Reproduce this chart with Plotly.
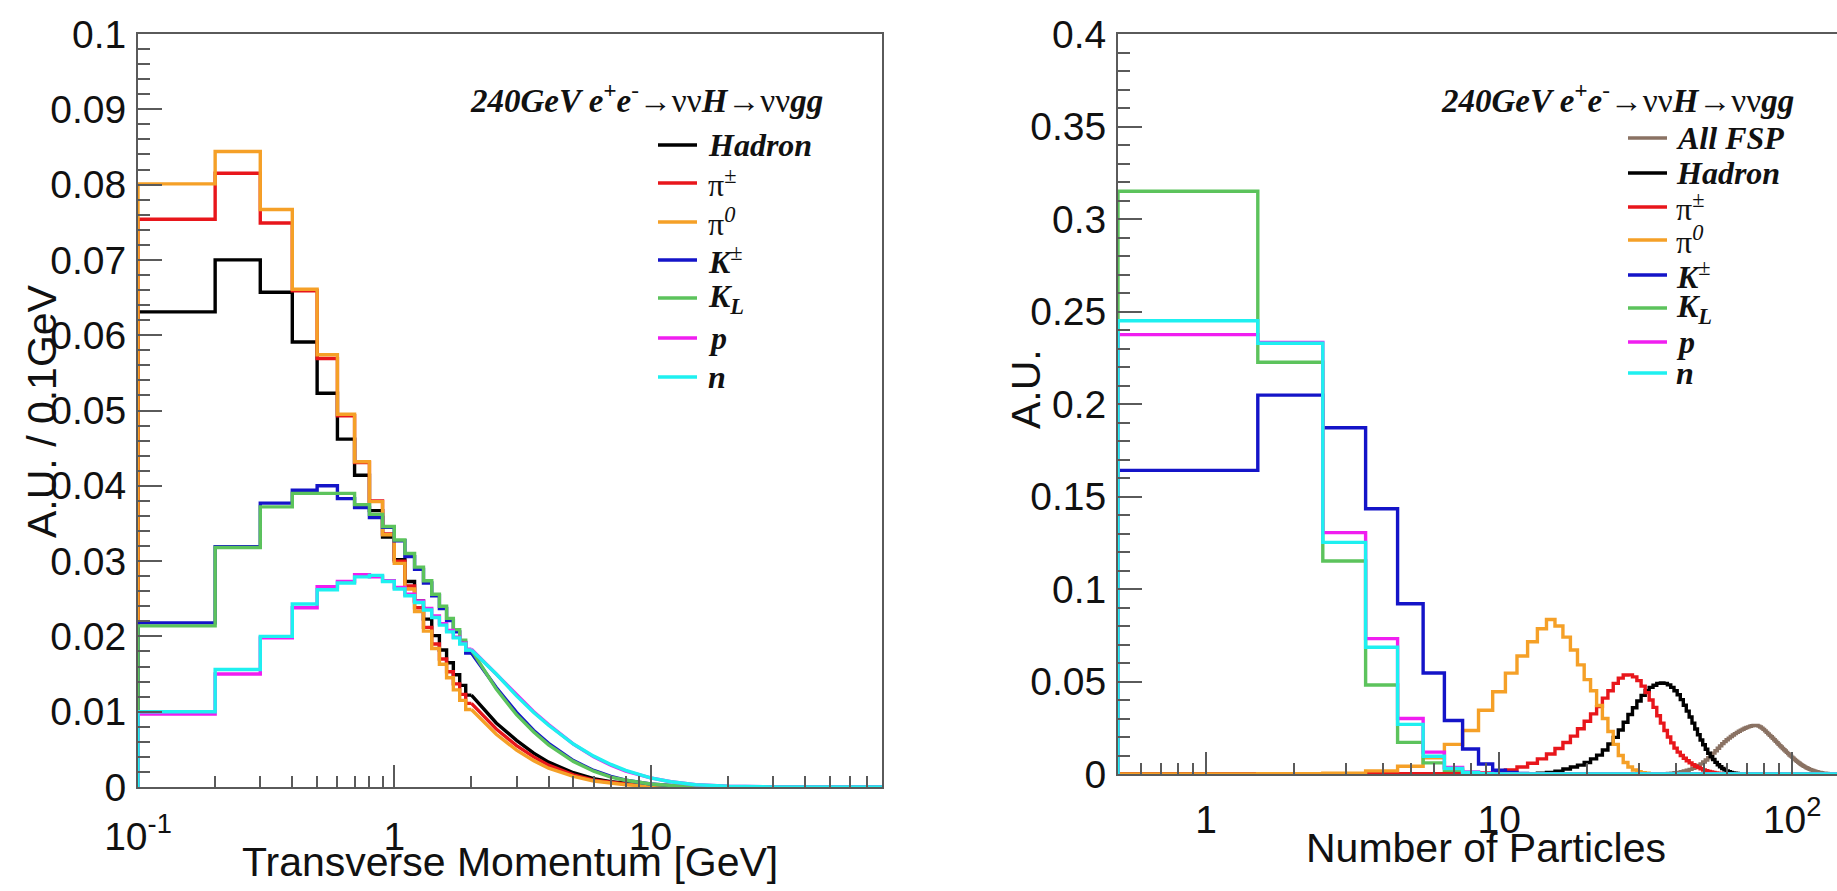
import plotly.graph_objects as go
import numpy as np

W, H = 1837, 891

# ---------------- Left panel: transverse momentum (0.1 GeV bins) ----------------
pt_edges = [round(0.1 * i, 1) for i in range(1, 21)]  # 0.1 .. 2.0
pt_hadron = [0.0631, 0.0700, 0.0657, 0.0591, 0.0523, 0.0462, 0.0414, 0.0367, 0.0332, 0.0302,
             0.0273, 0.0247, 0.0223, 0.0201, 0.0182, 0.0165, 0.0149, 0.0135, 0.0122]
pt_pipm = [0.0754, 0.0815, 0.0749, 0.0659, 0.0569, 0.0493, 0.0431, 0.0380, 0.0336, 0.0300,
           0.0267, 0.0238, 0.0212, 0.0190, 0.0170, 0.0153, 0.0137, 0.0123, 0.0111]
pt_pi0 = [0.0801, 0.0844, 0.0767, 0.0661, 0.0574, 0.0495, 0.0432, 0.0379, 0.0335, 0.0297,
          0.0263, 0.0233, 0.0207, 0.0184, 0.0163, 0.0145, 0.0129, 0.0115, 0.0103]
pt_kpm = [0.0218, 0.0319, 0.0377, 0.0394, 0.0400, 0.0383, 0.0371, 0.0358, 0.0345, 0.0327,
          0.0306, 0.0289, 0.0271, 0.0254, 0.0237, 0.0221, 0.0206, 0.0192, 0.0178]
pt_kl = [0.0214, 0.0318, 0.0372, 0.0390, 0.0390, 0.0390, 0.0375, 0.0362, 0.0346, 0.0328,
         0.0310, 0.0292, 0.0274, 0.0256, 0.0240, 0.0224, 0.0209, 0.0195, 0.0182]
pt_p = [0.0097, 0.0150, 0.0198, 0.0238, 0.0266, 0.0273, 0.0282, 0.0279, 0.0274, 0.0265,
        0.0256, 0.0247, 0.0237, 0.0227, 0.0217, 0.0208, 0.0199, 0.0191, 0.0183]
pt_n = [0.0100, 0.0156, 0.0200, 0.0243, 0.0262, 0.0271, 0.0279, 0.0281, 0.0273, 0.0263,
        0.0254, 0.0245, 0.0235, 0.0225, 0.0215, 0.0206, 0.0198, 0.0190, 0.0182]

# tail of the spectra (bins too narrow to resolve): values at these pT
pt_tail_x = [2.0, 2.5, 3, 3.5, 4, 5, 6, 7, 8, 10, 12, 15, 20, 30, 80]
tail_hadron = [0.0122, 0.0085, 0.0062, 0.0045, 0.0033, 0.0019, 0.0011, 0.0007, 0.0005, 0.0002, 0.0001, 0.00004, 0.00001, 0, 0]
tail_pipm = [0.0111, 0.0077, 0.0055, 0.0040, 0.0029, 0.0016, 0.0009, 0.0006, 0.0004, 0.00015, 0.00007, 0.00003, 0, 0, 0]
tail_pi0 = [0.0103, 0.0070, 0.0049, 0.0035, 0.0025, 0.0014, 0.0008, 0.0005, 0.0003, 0.0001, 0.00005, 0.00002, 0, 0, 0]
tail_kpm = [0.0178, 0.0132, 0.0099, 0.0075, 0.0058, 0.0035, 0.0022, 0.0014, 0.0009, 0.0004, 0.0002, 0.0001, 0.00003, 0, 0]
tail_kl = [0.0182, 0.0130, 0.0096, 0.0073, 0.0056, 0.0034, 0.0021, 0.0013, 0.0009, 0.0004, 0.0002, 0.0001, 0.00003, 0, 0]
tail_p = [0.0183, 0.0150, 0.0122, 0.0100, 0.0083, 0.0057, 0.0040, 0.0029, 0.0021, 0.0012, 0.0007, 0.0003, 0.0001, 0.00002, 0]
tail_n = [0.0182, 0.0150, 0.0121, 0.0099, 0.0082, 0.0057, 0.0041, 0.0030, 0.0022, 0.0012, 0.0007, 0.0003, 0.0001, 0.00002, 0]

# ---------------- Right panel: multiplicity (integer bins) ----------------
n_max = 150
fsp_start = 38
mult_fsp = [0.0003, 0.0005, 0.0007, 0.0009, 0.0012, 0.0016, 0.0020, 0.0025, 0.0031, 0.0038,
            0.0046, 0.0055, 0.0065, 0.0076, 0.0088, 0.0100, 0.0113, 0.0126, 0.0139, 0.0152,
            0.0164, 0.0175, 0.0185, 0.0194, 0.0203, 0.0211, 0.0218, 0.0225, 0.0231, 0.0237,
            0.0242, 0.0247, 0.0251, 0.0255, 0.0258, 0.0261, 0.0263, 0.0263, 0.0262, 0.0259,
            0.0254, 0.0248, 0.0241, 0.0233, 0.0225, 0.0217, 0.0209, 0.0201, 0.0193, 0.0185,
            0.0177, 0.0169, 0.0161, 0.0153, 0.0146, 0.0138, 0.0131, 0.0124, 0.0117, 0.0110,
            0.0103, 0.0097, 0.0091, 0.0085, 0.0079, 0.0073, 0.0068, 0.0063, 0.0058, 0.0053,
            0.0049, 0.0045, 0.0041, 0.0037, 0.0034, 0.0031, 0.0028, 0.0025, 0.0023, 0.0021,
            0.0019, 0.0017, 0.0015, 0.0013, 0.0012, 0.0010, 0.0009, 0.0008, 0.0007, 0.0006,
            0.0005, 0.0004, 0.0004, 0.0003, 0.0003, 0.0002, 0.0002, 0.0002, 0.0001, 0.0001,
            0.0001, 0.0001]
hadron_start = 12
mult_hadron = [0.0001, 0.0002, 0.0004, 0.0008, 0.0015, 0.0027, 0.0038, 0.0048, 0.0062, 0.0082,
               0.0102, 0.0130, 0.0162, 0.0198, 0.0238, 0.0280, 0.0322, 0.0358, 0.0395, 0.0425,
               0.0450, 0.0468, 0.0480, 0.0490, 0.0492, 0.0490, 0.0482, 0.0468, 0.0450, 0.0428,
               0.0402, 0.0372, 0.0340, 0.0308, 0.0275, 0.0243, 0.0212, 0.0184, 0.0158, 0.0134,
               0.0112, 0.0094, 0.0078, 0.0063, 0.0050, 0.0039, 0.0030, 0.0023, 0.0017, 0.0012,
               0.0008, 0.0006, 0.0004, 0.0003, 0.0002, 0.0001, 0.0001]
pipm_start = 4
mult_pipm = [0.0001, 0.0001, 0.0002, 0.0002, 0.0003, 0.0006, 0.0012, 0.0022, 0.0038, 0.0058,
             0.0082, 0.0108, 0.0138, 0.0170, 0.0205, 0.0245, 0.0285, 0.0325, 0.0365, 0.0410,
             0.0450, 0.0490, 0.0518, 0.0535, 0.0536, 0.0525, 0.0505, 0.0475, 0.0440, 0.0400,
             0.0360, 0.0315, 0.0275, 0.0235, 0.0200, 0.0168, 0.0140, 0.0118, 0.0100, 0.0085,
             0.0072, 0.0060, 0.0050, 0.0042, 0.0035, 0.0028, 0.0022, 0.0018, 0.0014, 0.0011,
             0.0008, 0.0006, 0.0004, 0.0003, 0.0002, 0.0001, 0.0001]
pi0_start = 2
mult_pi0 = [0.0001, 0.0004, 0.0017, 0.0042, 0.0088, 0.0160, 0.0235, 0.0345, 0.0445, 0.0545,
            0.0638, 0.0715, 0.0785, 0.0835, 0.0800, 0.0740, 0.0670, 0.0590, 0.0510, 0.0450,
            0.0370, 0.0300, 0.0230, 0.0160, 0.0100, 0.0062, 0.0038, 0.0022, 0.0013, 0.0007,
            0.0004, 0.0002, 0.0001]
kpm_start = 1
mult_kpm = [0.1641, 0.2048, 0.1872, 0.1434, 0.0920, 0.0546, 0.0289, 0.0135, 0.0054, 0.0020,
            0.0008, 0.0003, 0.0001]
kl_start = 1
mult_kl = [0.3150, 0.2226, 0.1151, 0.0481, 0.0171, 0.0060, 0.0020, 0.0006, 0.0002]
p_start = 1
mult_p = [0.2375, 0.2333, 0.1305, 0.0732, 0.0300, 0.0118, 0.0036, 0.0011, 0.0003]
n_start = 1
mult_n = [0.2450, 0.2328, 0.1252, 0.0685, 0.0268, 0.0096, 0.0030, 0.0009, 0.0002]

# ---------------- styling ----------------
C_FSP = "#8a7263"
C_HAD = "#000000"
C_PIPM = "#e8161b"
C_PI0 = "#f5a027"
C_KPM = "#1414c8"
C_KL = "#5cc35c"
C_P = "#f01ef0"
C_N = "#1ef0f0"
LW = 3.4
AXC = "#5a5a5a"
SANS = "Liberation Sans, Arial, sans-serif"
SERIF = "Liberation Serif, Times New Roman, serif"

L_LEFT, L_RIGHT, L_TOP, L_BOT = 138, 882, 34, 787
R_LEFT, R_RIGHT, R_TOP, R_BOT = 1118, W, 34, 774


def px(x):
    return x / W


def py(y):
    return 1 - y / H


fig = go.Figure()

left_series = [
    (C_HAD, pt_hadron, tail_hadron),
    (C_PIPM, pt_pipm, tail_pipm),
    (C_PI0, pt_pi0, tail_pi0),
    (C_KPM, pt_kpm, tail_kpm),
    (C_KL, pt_kl, tail_kl),
    (C_P, pt_p, tail_p),
    (C_N, pt_n, tail_n),
]
for col, vals, tail in left_series:
    xs = [pt_edges[0]] + pt_edges
    ys = [0] + vals + [vals[-1]]
    fig.add_trace(go.Scatter(x=xs, y=ys, mode="lines", line=dict(color=col, width=LW, shape="hv"),
                             xaxis="x", yaxis="y", showlegend=False, hoverinfo="skip"))
    fig.add_trace(go.Scatter(x=pt_tail_x, y=tail, mode="lines", line=dict(color=col, width=LW),
                             xaxis="x", yaxis="y", showlegend=False, hoverinfo="skip"))

right_series = [
    (C_FSP, fsp_start, mult_fsp),
    (C_HAD, hadron_start, mult_hadron),
    (C_PIPM, pipm_start, mult_pipm),
    (C_PI0, pi0_start, mult_pi0),
    (C_KPM, kpm_start, mult_kpm),
    (C_KL, kl_start, mult_kl),
    (C_P, p_start, mult_p),
    (C_N, n_start, mult_n),
]
n_vals = list(range(1, n_max + 1))
for col, start, vals in right_series:
    full = [0.0] * n_max
    for i, v in enumerate(vals):
        full[start - 1 + i] = v
    xs = [0.5] + [n - 0.5 for n in n_vals] + [n_max + 0.5]
    ys = [0] + full + [full[-1]]
    fig.add_trace(go.Scatter(x=xs, y=ys, mode="lines", line=dict(color=col, width=LW, shape="hv"),
                             xaxis="x2", yaxis="y2", showlegend=False, hoverinfo="skip"))

tickfont = dict(family=SANS, size=39, color="#111111")

left_minor = [v * m for v in (0.1, 1, 10) for m in range(2, 10) if v * m <= 80]
right_minor = [0.6, 0.7, 0.8, 0.9] + [v * m for v in (1, 10, 100) for m in range(2, 10) if v * m <= 141]

fig.update_layout(
    width=W, height=H, margin=dict(l=0, r=0, t=0, b=0),
    paper_bgcolor="white", plot_bgcolor="white", template="none",
    xaxis=dict(type="log", domain=[px(L_LEFT), px(L_RIGHT)], range=[-1, np.log10(80)],
               anchor="y", showgrid=False, zeroline=False, showline=True, linecolor=AXC, linewidth=2,
               mirror=True, ticks="inside", ticklen=22, tickwidth=1.5, tickcolor=AXC,
               tickvals=[0.1, 1, 10], ticktext=["10<sup>-1</sup>", "1", "10"], tickfont=tickfont,
               ticklabelstandoff=14, automargin=False,
               minor=dict(tickvals=left_minor, ticks="inside", ticklen=11, tickwidth=1.5, tickcolor=AXC, showgrid=False)),
    yaxis=dict(domain=[py(L_BOT), py(L_TOP)], range=[0, 0.1], anchor="x",
               showgrid=False, zeroline=False, showline=True, linecolor=AXC, linewidth=2,
               mirror=True, ticks="inside", ticklen=24, tickwidth=1.5, tickcolor=AXC,
               tickvals=[round(0.01 * i, 2) for i in range(0, 11)],
               ticktext=["0", "0.01", "0.02", "0.03", "0.04", "0.05", "0.06", "0.07", "0.08", "0.09", "0.1"],
               tickfont=tickfont, ticklabelstandoff=2, automargin=False,
               minor=dict(dtick=0.002, ticks="inside", ticklen=12, tickwidth=1.5, tickcolor=AXC, showgrid=False)),
    xaxis2=dict(type="log", domain=[px(R_LEFT), px(R_RIGHT)],
                range=[np.log10(0.5), np.log10(0.5) + (R_RIGHT - R_LEFT) / 293.0],
                anchor="y2", showgrid=False, zeroline=False, showline=True, linecolor=AXC, linewidth=2,
                mirror=True, ticks="inside", ticklen=22, tickwidth=1.5, tickcolor=AXC,
                tickvals=[1, 10, 100], ticktext=["1", "10", "10<sup>2</sup>"], tickfont=tickfont,
                ticklabelstandoff=10, automargin=False,
                minor=dict(tickvals=right_minor, ticks="inside", ticklen=11, tickwidth=1.5, tickcolor=AXC, showgrid=False)),
    yaxis2=dict(domain=[py(R_BOT), py(R_TOP)], range=[0, 0.4], anchor="x2",
                showgrid=False, zeroline=False, showline=True, linecolor=AXC, linewidth=2,
                mirror=False, ticks="inside", ticklen=24, tickwidth=1.5, tickcolor=AXC,
                tickvals=[round(0.05 * i, 2) for i in range(0, 9)],
                ticktext=["0", "0.05", "0.1", "0.15", "0.2", "0.25", "0.3", "0.35", "0.4"],
                tickfont=tickfont, ticklabelstandoff=2, automargin=False,
                minor=dict(dtick=0.01, ticks="inside", ticklen=12, tickwidth=1.5, tickcolor=AXC, showgrid=False)),
)

ann = []
shapes = []
titlefont = dict(family=SANS, size=41, color="#111111")
ann.append(dict(text="Transverse Momentum [GeV]", x=px(510), y=py(862), xref="paper", yref="paper",
                showarrow=False, xanchor="center", yanchor="middle", font=titlefont))
ann.append(dict(text="Number of Particles", x=px(1486), y=py(848), xref="paper", yref="paper",
                showarrow=False, xanchor="center", yanchor="middle", font=titlefont))
ann.append(dict(text="A.U. / 0.1GeV", x=px(42), y=py(411), xref="paper", yref="paper", textangle=-90,
                showarrow=False, xanchor="center", yanchor="middle", font=titlefont))
ann.append(dict(text="A.U.", x=px(1026), y=py(389), xref="paper", yref="paper", textangle=-90,
                showarrow=False, xanchor="center", yanchor="middle", font=titlefont))

proc = ("<b><i>240GeV e</i></b><sup><b><i>+</i></b></sup><b><i>e</i></b><sup>-</sup>"
        "→νν<b><i>H</i></b>→νν<b><i>gg</i></b>")
procfont = dict(family=SERIF, size=33, color="#111111")
ann.append(dict(text=proc, x=px(646), y=py(98), xref="paper", yref="paper", showarrow=False,
                xanchor="center", yanchor="middle", font=procfont))
ann.append(dict(text=proc, x=px(1617), y=py(98), xref="paper", yref="paper", showarrow=False,
                xanchor="center", yanchor="middle", font=procfont))

lab = {
    "fsp": "<b><i>All FSP</i></b>",
    "had": "<b><i>Hadron</i></b>",
    "pipm": "π<sup>±</sup>",
    "pi0": "π<sup><i>0</i></sup>",
    "kpm": "<b><i>K</i></b><sup>±</sup>",
    "kl": "<b><i>K</i></b><sub><b><i>L</i></b></sub>",
    "p": "<b><i>p</i></b>",
    "n": "<b><i>n</i></b>",
}
left_leg = [("had", C_HAD, 145), ("pipm", C_PIPM, 183), ("pi0", C_PI0, 222), ("kpm", C_KPM, 260),
            ("kl", C_KL, 298), ("p", C_P, 338), ("n", C_N, 377)]
right_leg = [("fsp", C_FSP, 138), ("had", C_HAD, 173), ("pipm", C_PIPM, 207), ("pi0", C_PI0, 240),
             ("kpm", C_KPM, 275), ("kl", C_KL, 308), ("p", C_P, 342), ("n", C_N, 373)]
legfont = dict(family=SERIF, size=32, color="#111111")
for entries, x0, x1, xt in ((left_leg, 658, 697, 706), (right_leg, 1628, 1667, 1674)):
    for key, col, yy in entries:
        shapes.append(dict(type="line", xref="paper", yref="paper", x0=px(x0), x1=px(x1),
                           y0=py(yy), y1=py(yy), line=dict(color=col, width=LW)))
        ann.append(dict(text=lab[key], x=px(xt), y=py(yy), xref="paper", yref="paper", showarrow=False,
                        xanchor="left", yanchor="middle", font=legfont))

fig.update_layout(annotations=ann, shapes=shapes)
fig.write_html("out.html", config={"displayModeBar": False},
               post_script="document.body.style.margin='0';document.body.style.overflow='hidden';")
